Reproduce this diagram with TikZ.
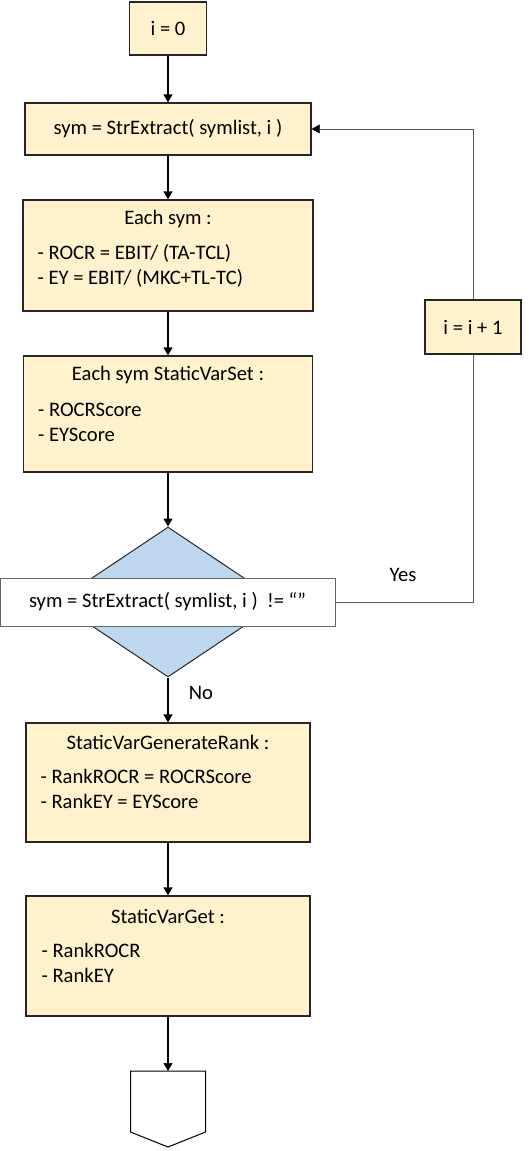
\documentclass[tikz,border=0pt]{standalone}
\usepackage{fontspec}
\setmainfont{Carlito}
\usetikzlibrary{shapes.geometric,arrows.meta}
\definecolor{boxfill}{HTML}{FFF2CC}
\definecolor{diafill}{HTML}{BDD7EE}
\definecolor{loopline}{HTML}{595959}

\begin{document}
\begin{tikzpicture}[x=1pt,y=-1pt,
  procbox/.style={draw=black!85, line width=1.3pt, fill=boxfill, inner sep=0pt},
  flow/.style={line width=1.3pt, -{Triangle[length=8pt,width=9pt]}},
  loopl/.style={draw=loopline, line width=0.6pt},
  txt/.style={font=\fontsize{20.6}{25}\selectfont, inner sep=0pt}]
\useasboundingbox (0,0) rectangle (528,1151);
% main column:
\node[procbox, txt, minimum width=77pt, minimum height=53pt] (init) at (168,28.5) {i = 0};
\node[procbox, txt, minimum width=286pt, minimum height=52pt] (sym) at (168,129) {sym = StrExtract( symlist, i )};
\node[procbox, minimum width=290pt, minimum height=111pt] (each) at (168,255.5) {};
\node[txt] (eachT) at ([yshift=-20pt]each.north) {Each sym :};
\node[txt, anchor=west, align=left] (eachL) at ([xshift=15pt,yshift=-66.5pt]each.north west) {- ROCR = EBIT/ (TA-TCL)\\- EY = EBIT/ (MKC+TL-TC)};
\node[procbox, minimum width=289pt, minimum height=116pt] (setv) at (168,414) {};
\node[txt] (setvT) at ([yshift=-20pt]setv.north) {Each sym StaticVarSet :};
\node[txt, anchor=west, align=left] (setvL) at ([xshift=15pt,yshift=-67.5pt]setv.north west) {- ROCRScore\\- EYScore};
% decision:
\node[diamond, draw=black!85, line width=1pt, fill=diafill, minimum width=224pt, minimum height=150pt, inner sep=0pt] (dec) at (168,602) {};
\node[txt, draw=black!60, line width=0.8pt, fill=white, minimum width=335pt, minimum height=48pt] (check) at (167.5,602) {sym = StrExtract( symlist, i )\ \ != “”};
\node[procbox, txt, minimum width=96pt, minimum height=54pt] (inc) at (473,327) {i = i + 1};
\node[txt] (yes) at (403,575) {Yes};
\node[txt] (no) at (201,693) {No};
% after the loop:
\node[procbox, minimum width=284pt, minimum height=119pt] (rank) at (168,782.5) {};
\node[txt] (rankT) at ([yshift=-20pt]rank.north) {StaticVarGenerateRank :};
\node[txt, anchor=west, align=left] (rankL) at ([xshift=15pt,yshift=-67pt]rank.north west) {- RankROCR = ROCRScore\\- RankEY = EYScore};
\node[procbox, minimum width=284pt, minimum height=120pt] (getv) at (168,956) {};
\node[txt] (getvT) at ([yshift=-21pt]getv.north) {StaticVarGet :};
\node[txt, anchor=west, align=left] (getvL) at ([xshift=16pt,yshift=-68pt]getv.north west) {- RankROCR\\- RankEY};
\coordinate (endtop) at (168,1071);
\draw[line width=1pt, fill=white] (endtop) -- (205.5,1071) -- (205.5,1132) -- (168,1147) -- (130.5,1132) -- (130.5,1071) -- cycle;
% connectors:
\draw[flow] (init) -- (sym);
\draw[flow] (sym) -- (each);
\draw[flow] (each) -- (setv);
\draw[flow] (setv) -- (dec);
\draw[flow] (dec) -- (rank);
\draw[flow] (rank) -- (getv);
\draw[flow] (getv) -- (endtop);
\draw[loopl] (check.east) -| (inc.south);
\draw[loopl, -{Triangle[length=8pt,width=9pt,color=black]}] (inc.north) |- (sym.east);
\end{tikzpicture}
\end{document}
